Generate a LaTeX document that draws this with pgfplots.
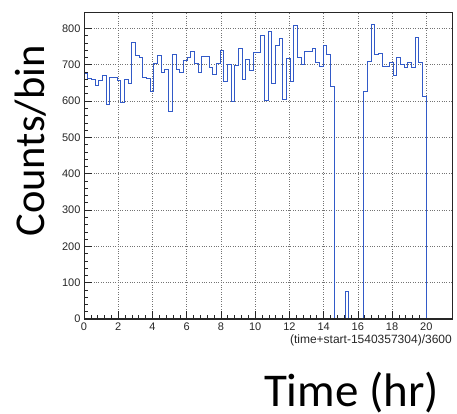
\documentclass[border=0pt]{standalone}
\usepackage{fontspec}
\setmainfont{Liberation Sans}
\newfontfamily\calibri{Carlito}
\usepackage{pgfplots}
\pgfplotsset{compat=1.18}
\usepackage{pgfplotstable}
\definecolor{histblue}{RGB}{50,90,200}

% bin left edge (hr), counts per bin
\pgfplotstableread{
x y
0 676
0.215 663
0.43 660
0.645 642
0.86 657
1.075 671
1.29 591
1.505 665
1.72 665
1.935 657
2.15 595
2.365 658
2.58 648
2.795 762
3.01 725
3.225 719
3.44 665
3.655 661
3.87 627
4.085 704
4.3 726
4.515 678
4.73 687
4.945 570
5.16 729
5.375 687
5.59 679
5.805 711
6.02 720
6.235 737
6.45 704
6.665 679
6.88 722
7.095 722
7.31 693
7.525 672
7.74 702
7.955 740
8.17 655
8.385 700
8.6 598
8.815 698
9.03 745
9.245 658
9.46 715
9.675 685
9.89 733
10.105 733
10.32 780
10.535 601
10.75 792
10.965 647
11.18 752
11.395 771
11.61 604
11.825 716
12.04 654
12.255 809
12.47 720
12.685 700
12.9 736
13.115 735
13.33 744
13.545 705
13.76 694
13.975 752
14.19 727
14.405 640
14.62 0
14.835 0
15.05 0
15.265 75
15.48 0
15.695 0
15.91 0
16.125 0
16.34 627
16.555 708
16.77 811
16.985 728
17.2 731
17.415 696
17.63 696
17.845 706
18.06 669
18.275 720
18.49 700
18.705 692
18.92 705
19.135 692
19.35 774
19.565 706
19.78 612
19.995 0
}\hist

\begin{document}
\begin{tikzpicture}
\path[use as bounding box] (-84pt,-95pt) rectangle (373pt,319pt);
\begin{axis}[
  at={(0pt,0pt)}, anchor=south west,
  scale only axis, width=368pt, height=307pt,
  xmin=0, xmax=21.5, ymin=0, ymax=845,
  xtick={0,2,...,20}, ytick={0,100,...,800},
  minor x tick num=4, minor y tick num=4,
  tick pos=left, tick align=inside,
  major tick length=8pt, minor tick length=4pt,
  grid=major,
  major grid style={black!55, line width=0.5pt, dash pattern=on 0.8pt off 1.6pt},
  axis line style={black!85, line width=0.7pt},
  every tick/.style={black!85, line width=0.6pt},
  tick label style={font=\fontsize{11}{12}\selectfont, black!85},
  /pgf/number format/assume math mode=true,
]
\addplot[const plot, histblue, line width=1pt] table {\hist};
% frame redrawn over the histogram, as ROOT does
\draw[black!85, line width=1pt] (rel axis cs:0,1) -- (rel axis cs:0,0) -- (rel axis cs:1,0);
\end{axis}
\node[anchor=base east, font=\fontsize{12}{13}\selectfont, black!85, inner sep=0pt]
  at (368pt,-25pt) {(time+start-1540357304)/3600};
\node[rotate=90, anchor=base, inner sep=0pt, font=\calibri\fontsize{42.5}{46}\selectfont]
  at (-39pt,178pt) {Counts/bin};
\node[anchor=base, inner sep=0pt, font=\calibri\fontsize{47}{50}\selectfont]
  at (267.5pt,-88pt) {Time (hr)};
\end{tikzpicture}
\end{document}
